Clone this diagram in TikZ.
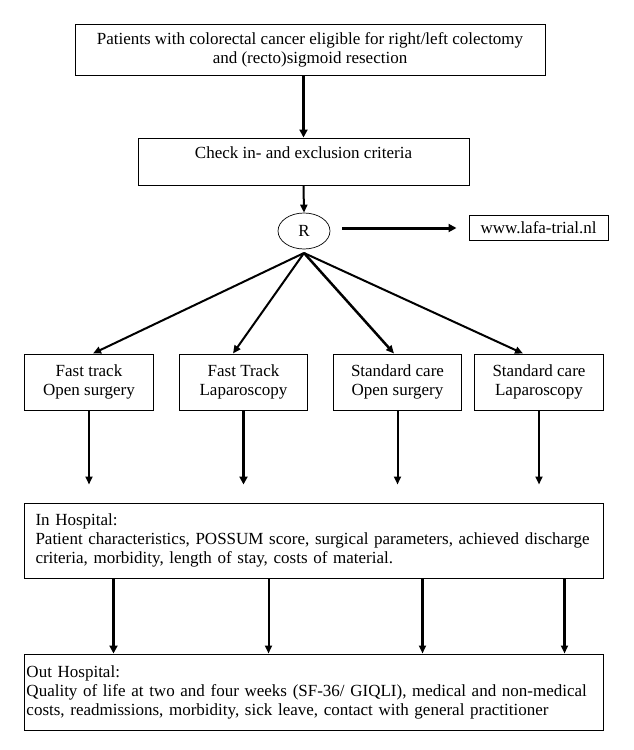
\documentclass[tikz,border=0pt]{standalone}
\usepackage{fontspec}
\setmainfont{Liberation Serif}
\usetikzlibrary{arrows.meta,calc,shapes.geometric}
\begin{document}
\begin{tikzpicture}[x=1pt,y=-1pt,
  every node/.style={font=\fontsize{17}{19}\selectfont},
  box/.style={draw,line width=1pt,rectangle,inner sep=0pt,align=center},
  conn/.style={line width=2pt,-{Triangle[length=8pt,width=7pt]}},
  thickconn/.style={line width=3pt,-{Triangle[length=8pt,width=8pt]}}]
\useasboundingbox[fill=white] (0,0) rectangle (633,750);
% boxes
\node[box,minimum width=470pt,minimum height=51pt] (top) at (310,49.5)
  {Patients with colorectal cancer eligible for right/left colectomy\\and (recto)sigmoid resection};
\node[box,minimum width=331pt,minimum height=47pt,text depth=18pt] (chk) at (303.5,161.5)
  {Check in- and exclusion criteria};
\node[draw,ellipse,line width=0.7pt,minimum width=52pt,minimum height=36pt,inner sep=0pt] (R) at (304,231) {R};
\node[box,minimum width=139pt,minimum height=25pt] (lafa) at (538.5,227.5) {www.lafa-trial.nl};
\node[box,minimum width=128.5pt,minimum height=56pt] (b1) at (89,382) {Fast track\\Open surgery};
\node[box,minimum width=128.5pt,minimum height=56pt] (b2) at (243.5,382) {Fast Track\\Laparoscopy};
\node[box,minimum width=128.5pt,minimum height=56pt] (b3) at (397.5,382) {Standard care\\Open surgery};
\node[box,minimum width=128.5pt,minimum height=56pt] (b4) at (539,382) {Standard care\\Laparoscopy};
\node[box,minimum width=579pt,minimum height=75pt,text width=557pt,inner xsep=11pt,align=left] (ih) at (314,540.5)
  {In Hospital:\\Patient characteristics, POSSUM score, surgical parameters, achieved discharge\\criteria, morbidity, length of stay, costs of material.};
\node[box,minimum width=579pt,minimum height=76pt,text width=575pt,inner xsep=2pt,align=left] (oh) at (314,692)
  {Out Hospital:\\Quality of life at two and four weeks (SF-36/ GIQLI), medical and non-medical\\costs, readmissions, morbidity, sick leave, contact with general practitioner};
% connectors
\draw[thickconn,line width=2.6pt] (top.south -| chk.north) -- (chk.north);
\draw[conn] (chk.south) -- (R.north);
\coordinate (rs) at ([xshift=12pt,yshift=3pt]R.east);
\draw[thickconn,shorten >=12pt] (rs) -- (rs -| lafa.west);
\coordinate (rc) at (304,253);
\draw[conn] (rc) -- ([xshift=4pt]b1.north);
\draw[conn] (rc) -- ([xshift=-10.5pt]b2.north);
\draw[conn,line width=2.5pt] (rc) -- ([xshift=-3.5pt]b3.north);
\draw[conn] (rc) -- ([xshift=-16pt]b4.north);
\draw[conn] (b1.south) -- ([yshift=18pt]b1.south |- ih.north);
\draw[thickconn] (b2.south) -- ([yshift=18pt]b2.south |- ih.north);
\draw[conn] (b3.south) -- ([yshift=18pt]b3.south |- ih.north);
\draw[conn] (b4.south) -- ([yshift=18pt]b4.south |- ih.north);
\coordinate (c1) at ($(ih.south west)+(89.5,0)$);
\coordinate (c2) at ($(ih.south west)+(244.5,0)$);
\coordinate (c3) at ($(ih.south west)+(398.5,0)$);
\coordinate (c4) at ($(ih.south west)+(540.5,0)$);
\draw[thickconn] (c1) -- (c1 |- oh.north);
\draw[conn] (c2) -- (c2 |- oh.north);
\draw[conn,line width=2.5pt] (c3) -- (c3 |- oh.north);
\draw[conn,line width=2.5pt] (c4) -- (c4 |- oh.north);
\end{tikzpicture}
\end{document}
